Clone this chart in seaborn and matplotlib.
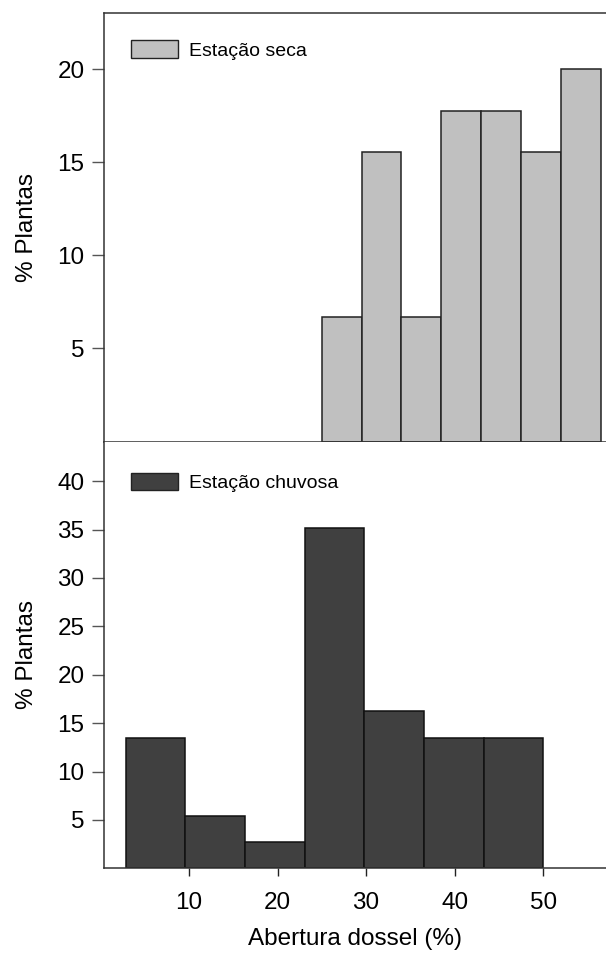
import matplotlib
matplotlib.use("Agg")
import matplotlib.pyplot as plt
from matplotlib.patches import Patch
import seaborn as sns

# Histogram bins (canopy opening, %) and percentage of plants per bin
dry_edges = [25.0, 29.5, 34.0, 38.5, 43.0, 47.5, 52.0, 56.5]
dry_pct = [6.67, 15.56, 6.67, 17.78, 17.78, 15.56, 20.0]

wet_edges = [2.86, 9.59, 16.33, 23.06, 29.8, 36.53, 43.27, 50.0]
wet_pct = [13.51, 5.41, 2.70, 35.14, 16.22, 13.51, 13.51]

dry_label = "Estação seca"
wet_label = "Estação chuvosa"
x_ticks = [10, 20, 30, 40, 50]
dry_yticks = [5, 10, 15, 20]
wet_yticks = [5, 10, 15, 20, 25, 30, 35, 40]

sns.set_theme(style="ticks", rc={"text.color": "black", "axes.labelcolor": "black",
                                 "xtick.labelcolor": "black", "ytick.labelcolor": "black"})
plt.rcParams["font.family"] = ["Liberation Sans", "DejaVu Sans"]

dry_color = "#c0c0c0"
wet_color = "#404040"
edge = "#222222"

fig = plt.figure(figsize=(6.06, 9.58), dpi=100)
ax1 = fig.add_axes([0.1716, 0.5391, 0.8284, 0.4470])
ax2 = fig.add_axes([0.1716, 0.0936, 0.8284, 0.4455])


def centers(edges):
    return [(a + b) / 2 for a, b in zip(edges[:-1], edges[1:])]


sns.histplot(x=centers(dry_edges), weights=dry_pct, bins=dry_edges, ax=ax1,
             color=dry_color, edgecolor=edge, linewidth=1.1, alpha=1)
sns.histplot(x=centers(wet_edges), weights=wet_pct, bins=wet_edges, ax=ax2,
             color=wet_color, edgecolor="#111111", linewidth=1.1, alpha=1)

for ax in (ax1, ax2):
    ax.set_xlim(0.4, 57.1)
    ax.set_xticks(x_ticks)
    ax.spines["right"].set_visible(False)
    for s in ("left", "bottom", "top"):
        ax.spines[s].set_color("#333333")
        ax.spines[s].set_linewidth(1.1)
    ax.tick_params(axis="y", direction="out", length=9, width=1, color="#555555",
                   labelsize=17.5, labelcolor="black", pad=5)
    ax.tick_params(axis="x", direction="out", length=6, width=1, color="#222222",
                   labelsize=17.5, labelcolor="black", pad=11)
    ax.set_ylabel("% Plantas", fontsize=17.5, labelpad=14, color="black")

ax1.set_ylim(0, 23)
ax1.set_yticks(dry_yticks)
ax1.set_xticklabels([])
ax1.set_xlabel("")
ax2.set_ylim(0, 44.1)
ax2.set_yticks(wet_yticks)
ax2.spines["top"].set_visible(False)
ax2.set_xlabel("Abertura dossel (%)", fontsize=17.5, labelpad=10, color="black")

ax1.legend(handles=[Patch(facecolor=dry_color, edgecolor=edge, linewidth=1)],
           labels=[dry_label], loc="center left", bbox_to_anchor=(0.039, 0.914),
           frameon=False, fontsize=14, handlelength=2.4, handleheight=1.0,
           handletextpad=0.55, borderaxespad=0, labelcolor="black")
ax2.legend(handles=[Patch(facecolor=wet_color, edgecolor=edge, linewidth=1)],
           labels=[wet_label], loc="center left", bbox_to_anchor=(0.039, 0.904),
           frameon=False, fontsize=14, handlelength=2.4, handleheight=1.0,
           handletextpad=0.55, borderaxespad=0, labelcolor="black")

fig.savefig("out.png", dpi=100)
